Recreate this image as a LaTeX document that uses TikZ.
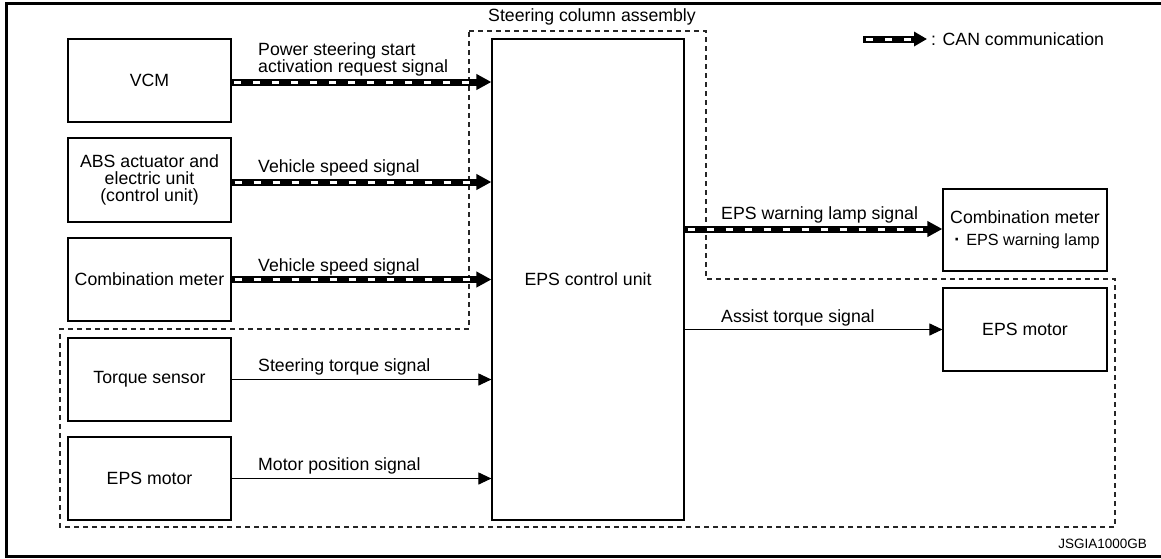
\documentclass[tikz,border=0pt]{standalone}
\usepackage{fontspec}
\setmainfont{Liberation Sans}
\usetikzlibrary{arrows.meta}
\begin{document}
\begin{tikzpicture}[x=1pt,y=-1pt,
  every node/.style={font=\fontsize{17.7}{20}\selectfont, inner sep=0pt},
  blk/.style={draw, line width=1.2pt, align=center},
  lbl/.style={anchor=base west},
  sig/.style={line width=1.1pt, -{Triangle[length=13pt,width=12pt]}},
  can/.style={line width=7pt, -{Triangle[length=15pt,width=15pt]},
    postaction={draw=white, line width=3pt, arrows=-, dash pattern=on 7pt off 12pt, dash phase=-3pt, shorten >=16pt}},
  bound/.style={draw=black!85, line width=1.1pt, dash pattern=on 5pt off 4pt}
]
\useasboundingbox (0,0) rectangle (1161,558);
% frame
\draw[line width=3pt] (1161,3) -- (6,3) -- (6,556.5) -- (1161,556.5);

% boxes
\node[blk, minimum width=163pt, minimum height=83pt] (vcm) at (149.5,80.5) {VCM};
\node[blk, minimum width=163pt, minimum height=84pt, font=\fontsize{17.7}{17}\selectfont] (abs) at (149.5,180) {ABS actuator and\\electric unit\\(control unit)};
\node[blk, minimum width=163pt, minimum height=83pt] (cmL) at (149.5,279.5) {Combination meter};
\node[blk, minimum width=163pt, minimum height=83pt] (ts) at (149.5,379.5) {Torque sensor};
\node[blk, minimum width=163pt, minimum height=83pt] (epsL) at (149.5,478.5) {EPS motor};
\node[blk, minimum width=192pt, minimum height=481pt] (ecu) at (588,279.5) {EPS control unit};
\node[blk, minimum width=164pt, minimum height=82pt, font=\fontsize{17.7}{21.5}\selectfont] (cmR) at (1025,230) {Combination meter\\\hspace*{4pt}{\bfseries ·}\hspace{6pt}{\fontsize{16.2}{21.5}\selectfont EPS warning lamp}};
\node[blk, minimum width=164pt, minimum height=83pt] (epsR) at (1025,329.5) {EPS motor};

% boundary
\draw[bound] (469,31) -- (706,31) -- (706,279) -- (1115,279) -- (1115,527) -- (60,527) -- (60,329) -- (469,329) -- cycle;
\node (sca) at (592,17) {Steering column assembly};

% CAN connectors
\draw[can] (231,82) coordinate (a1) -- (a1 -| ecu.west);
\draw[can] (abs.east) ++(0,2) coordinate (a2) -- (a2 -| ecu.west);
\draw[can] (cmL.east) coordinate (a3) -- (a3 -| ecu.west);
\draw[can] (ecu.east |- 0,229) coordinate (a4) -- (a4 -| cmR.west);

% plain connectors
\draw[sig] (ts.east) -- (ts.east -| ecu.west);
\draw[sig] (epsL.east) -- (epsL.east -| ecu.west);
\draw[sig] (ecu.east |- epsR.west) -- (epsR.west);

% labels
\node[lbl] (l1a) at (258,55) {Power steering start};
\node[lbl] (l1b) at (258,72) {activation request signal};
\node[lbl] (l2) at (258,172) {Vehicle speed signal};
\node[lbl] (l3) at (258,271) {Vehicle speed signal};
\node[lbl] (l4) at (258,371) {Steering torque signal};
\node[lbl] (l5) at (258,470) {Motor position signal};
\node[lbl] (l6) at (721,219) {EPS warning lamp signal};
\node[lbl] (l7) at (721,322) {Assist torque signal};

% legend
\coordinate (legA) at (863,39);
\coordinate (legB) at (927,39);
\draw[can, -{Triangle[length=13pt,width=14pt]}] (legA) -- (legB);
\node[lbl] (legT) at (931,45) {: CAN communication};

\node[anchor=base east, font=\fontsize{13.5}{15}\selectfont] (code) at (1147,548) {JSGIA1000GB};
\end{tikzpicture}
\end{document}
